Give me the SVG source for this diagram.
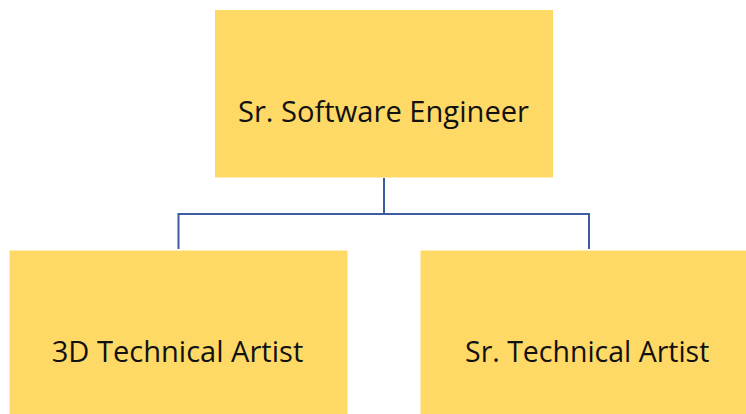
<svg xmlns="http://www.w3.org/2000/svg" width="746" height="414" viewBox="0 0 746 414">
  <style>
    .box { fill: #FFD966; }
    .label { font-family: "Open Sans", "Liberation Sans", sans-serif; font-size: 29px; fill: #111111; text-anchor: middle; }
    .link { fill: none; stroke: #3B5CA0; stroke-width: 2; }
  </style>
  <rect width="746" height="414" fill="#FFFFFF"/>
  <g id="connectors">
    <path class="link" d="M384,178 V214 M178.5,249 V214 H589 V249"/>
  </g>
  <g id="node-sr-software-engineer">
    <rect class="box" x="215" y="10" width="338" height="167.5"/>
    <text class="label" x="383.5" y="122.3" textLength="291" lengthAdjust="spacingAndGlyphs">Sr. Software Engineer</text>
  </g>
  <g id="node-3d-technical-artist">
    <rect class="box" x="9.5" y="250.5" width="338" height="163.5"/>
    <text class="label" x="177.5" y="362.3" textLength="251.5" lengthAdjust="spacingAndGlyphs">3D Technical Artist</text>
  </g>
  <g id="node-sr-technical-artist">
    <rect class="box" x="420.5" y="250.5" width="325.5" height="163.5"/>
    <text class="label" x="587.2" y="362.3" textLength="244.3" lengthAdjust="spacingAndGlyphs">Sr. Technical Artist</text>
  </g>
</svg>
